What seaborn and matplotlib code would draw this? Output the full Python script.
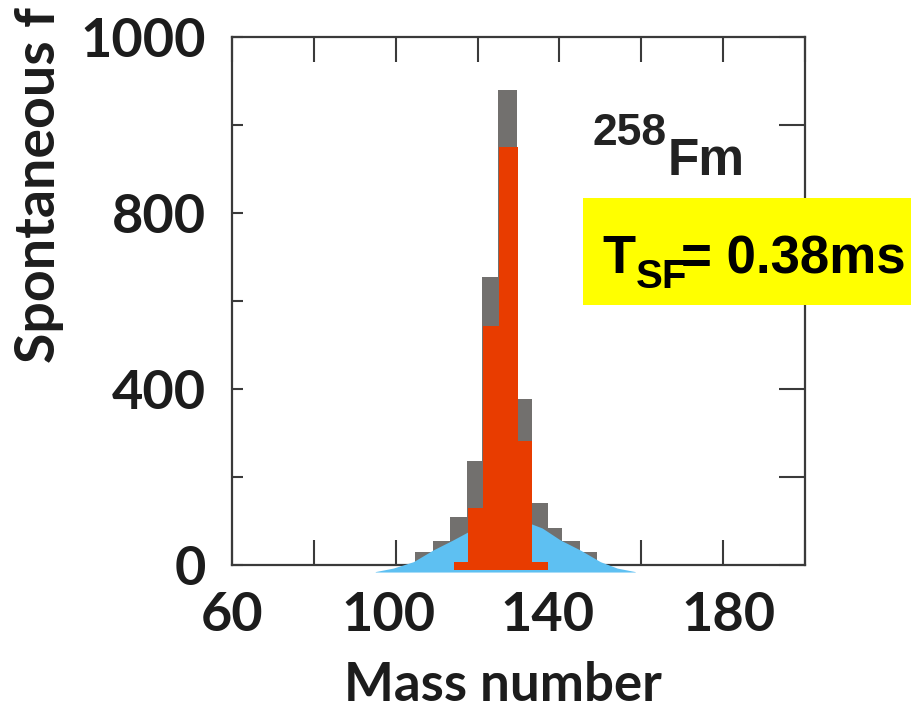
import numpy as np
import pandas as pd
import matplotlib
matplotlib.use("Agg")
import matplotlib.pyplot as plt
import matplotlib.transforms as mtransforms
import seaborn as sns
from matplotlib.patches import Rectangle

# ---------------- data ----------------
x_ticks = [60, 80, 100, 120, 140, 160, 180, 200]
x_tick_labels = ["60", "", "100", "", "140", "", "180", ""]
y_ticks = [0, 200, 400, 600, 800, 1000, 1200]
y_tick_labels = ["0", "", "400", "", "800", "", "1000"]

# measured (grey histogram)
gray_edges = [104.7, 109.1, 113.2, 117.4, 121.1, 125.0, 129.7, 133.3, 137.2, 140.7, 145.1, 149.3]
gray_counts = [30, 55, 110, 236, 655, 1080, 377, 141, 85, 55, 30]

# calculated (red histogram)
red_edges = [117.7, 121.4, 125.3, 129.9, 133.3]
red_counts = [130, 543, 950, 282]
red_base_range = [114.3, 137.1]
red_base_top = 7
red_floor = -11

# calculated (blue distribution)
blue_mass = [95.0, 99.4, 104.3, 109.1, 114.0, 118.2, 123.0, 128.0, 133.3, 135.8, 140.2, 145.1, 150.0, 154.1, 158.5]
blue_vals = [-15, -7, 7.5, 34, 57, 78, 92, 99, 93, 84, 57, 34, 7.5, -7, -15]
blue_floor = -16

nucleus_mass = "258"
nucleus_symbol = "Fm"
x_label = "Mass number"
y_label = "Spontaneous f"

# ---------------- style ----------------
GRAY = "#72706E"
RED = "#E83C00"
BLUE = "#5EC0F2"
SPINE = "#3a3a3a"
TXT = "#1c1c1c"

sns.set_theme(style="white")
plt.rcParams["font.family"] = ["Lato", "DejaVu Sans"]

W, H = 912, 713
fig = plt.figure(figsize=(W / 100, H / 100), dpi=100)
fig.patch.set_facecolor("white")

L, R, T, B = 232, 805, 37, 565
ax = fig.add_axes([L / W, 1 - B / H, (R - L) / W, (B - T) / H])
ax.set_facecolor("white")

# grey histogram via seaborn
gray_centers = [(a + b) / 2 for a, b in zip(gray_edges[:-1], gray_edges[1:])]
df = pd.DataFrame({"mass": gray_centers, "count": gray_counts})
sns.histplot(data=df, x="mass", weights="count", bins=gray_edges, stat="count",
             color=GRAY, alpha=1, edgecolor="none", linewidth=0, ax=ax, zorder=2)

# blue distribution
ax.fill_between(blue_mass, blue_vals, blue_floor, color=BLUE, lw=0, zorder=3, clip_on=False)

# red histogram
ax.bar(red_base_range[0], red_base_top - red_floor, bottom=red_floor,
       width=red_base_range[1] - red_base_range[0], align="edge",
       color=RED, lw=0, zorder=4, clip_on=False)
red_left = red_edges[:-1]
red_w = [b - a for a, b in zip(red_edges[:-1], red_edges[1:])]
ax.bar(red_left, [c - red_floor for c in red_counts], bottom=red_floor, width=red_w,
       align="edge", color=RED, lw=0, zorder=4, clip_on=False)

ax.set_xlim(60, 200)
ax.set_ylim(0, 1200)
ax.set_xlabel("")
ax.set_ylabel("")

for s in ax.spines.values():
    s.set_visible(True)
    s.set_color(SPINE)
    s.set_linewidth(1.6)

ax.set_xticks(x_ticks)
ax.set_xticklabels(x_tick_labels)
ax.set_yticks(y_ticks)
ax.set_yticklabels(y_tick_labels)
ax.tick_params(axis="x", direction="in", top=True, bottom=True, length=18, width=1.5,
               color=SPINE, pad=19, labelsize=39, labelcolor=TXT)
ax.tick_params(axis="y", direction="in", left=True, right=True, length=19, width=1.5,
               color=SPINE, pad=19, labelsize=39, labelcolor=TXT)
for lab in ax.get_xticklabels() + ax.get_yticklabels():
    lab.set_fontweight("bold")
for t in ax.yaxis.get_major_ticks():
    t.tick1line.set_markersize(8)

# small horizontal label offsets as in the reference (pixels)
label_shift = {"100": -7, "140": -12, "180": 5}
for lab in ax.get_xticklabels():
    dx = label_shift.get(lab.get_text(), 0)
    if dx:
        lab.set_transform(lab.get_transform() +
                          mtransforms.ScaledTranslation(dx / 100, 0, fig.dpi_scale_trans))

# axis labels
fig.text(503 / W, 1 - 701 / H, x_label, ha="center", va="baseline",
         fontsize=38, fontweight="bold", color=TXT)
fig.text(55 / W, 1 - 363 / H, y_label, rotation=90, rotation_mode="anchor",
         ha="left", va="baseline", fontsize=40, fontweight="bold", color=TXT)

# nucleus label
arial = ["Liberation Sans", "DejaVu Sans"]
fig.text(592 / W, 1 - 145 / H, nucleus_mass, ha="left", va="baseline",
         fontsize=32, fontweight="bold", color="#222222", family=arial)
fig.text(668 / W, 1 - 175 / H, nucleus_symbol, ha="left", va="baseline",
         fontsize=37, fontweight="bold", color="#222222", family=arial)

# yellow half-life box
rect = Rectangle((583 / W, 1 - 305 / H), (W - 583) / W, 107 / H,
                 transform=fig.transFigure, facecolor="#FFFF00", edgecolor="none", zorder=5)
fig.add_artist(rect)
fig.text(602 / W, 1 - 273 / H, "T", ha="left", va="baseline", fontsize=39,
         fontweight="bold", color="black", family=arial, zorder=6)
fig.text(636 / W, 1 - 288 / H, "SF", ha="left", va="baseline", fontsize=29,
         fontweight="bold", color="black", family=arial, zorder=6)
fig.text(681 / W, 1 - 273 / H, "= 0.38ms", ha="left", va="baseline", fontsize=38,
         fontweight="bold", color="black", family=arial, zorder=6)

fig.savefig("out.png", dpi=100)
